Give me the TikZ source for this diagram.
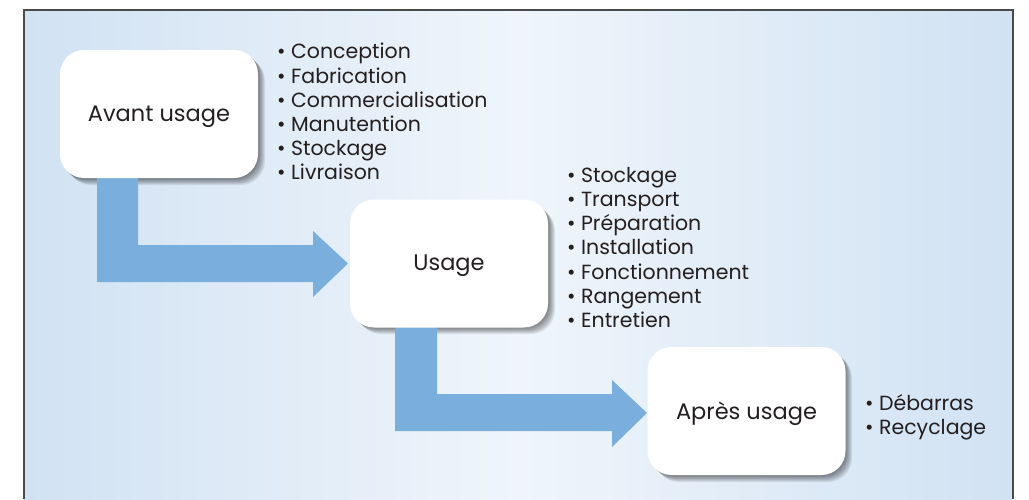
\documentclass[tikz,border=0pt]{standalone}
\usepackage{fontspec}
\setmainfont{Poppins}
\usetikzlibrary{shadows}
\definecolor{bgedge}{HTML}{D1E2F3}
\definecolor{bgmid}{HTML}{EFF5FB}
\definecolor{arrowblue}{HTML}{7AAEDD}
\definecolor{framegray}{HTML}{4A4A4A}
\definecolor{txt}{HTML}{231F20}
\tikzset{
  phase/.style={draw=none, fill=white, rounded corners=24pt, minimum width=198pt, minimum height=128pt,
    font=\fontsize{22.5}{26}\selectfont, text=txt, inner sep=0pt, text depth=1pt},
  itemlist/.style={anchor=north west, align=left, inner sep=0pt, text=txt,
    font=\fontsize{20.5}{24.2}\selectfont},
  bigarrow/.style={fill=arrowblue, draw=none},
  softshadow/.style={fill=black, opacity=0.08, rounded corners=24pt}
}
\begin{document}
\begin{tikzpicture}[x=1pt,y=-1pt]
\useasboundingbox (0,0) rectangle (1029,499);
% background panel
\shade[left color=bgedge, right color=bgedge, middle color=bgmid] (24,10) rectangle (1013,499);
\draw[framegray, line width=1.4pt] (24,499) -- (24,10) -- (1013,10) -- (1013,499);

% soft shadows
\foreach \d in {1,2,3,4,5,6,7}{
  \fill[softshadow] (60+\d,50+\d) rectangle (258+\d,178+\d);
  \fill[softshadow] (350+\d,200+\d) rectangle (548+\d,327+\d);
  \fill[softshadow] (648+\d,347+\d) rectangle (845+\d,475+\d);
}

% arrows
\fill[bigarrow] (97,178) -- (138,178) -- (138,245) -- (313,245) -- (313,231) -- (348,263.5)
  -- (313,297) -- (313,282) -- (97,282) -- cycle;
\fill[bigarrow] (395,327) -- (437,327) -- (437,394) -- (612,394) -- (612,380) -- (647,413)
  -- (612,447) -- (612,431) -- (395,431) -- cycle;

% phase boxes
\node[phase] (avant) at (159,114) {Avant usage};
\node[phase] (usage) at (449,263.5) {Usage};
\node[phase] (apres) at (746.5,411) {Après usage};

% lists
\node[itemlist] (l1) at (277,43) {• Conception\\• Fabrication\\• Commercialisation\\• Manutention\\• Stockage\\• Livraison};
\node[itemlist] (l2) at (567,167) {• Stockage\\• Transport\\• Préparation\\• Installation\\• Fonctionnement\\• Rangement\\• Entretien};
\node[itemlist] (l3) at (865,394) {• Débarras\\• Recyclage};
\end{tikzpicture}
\end{document}
